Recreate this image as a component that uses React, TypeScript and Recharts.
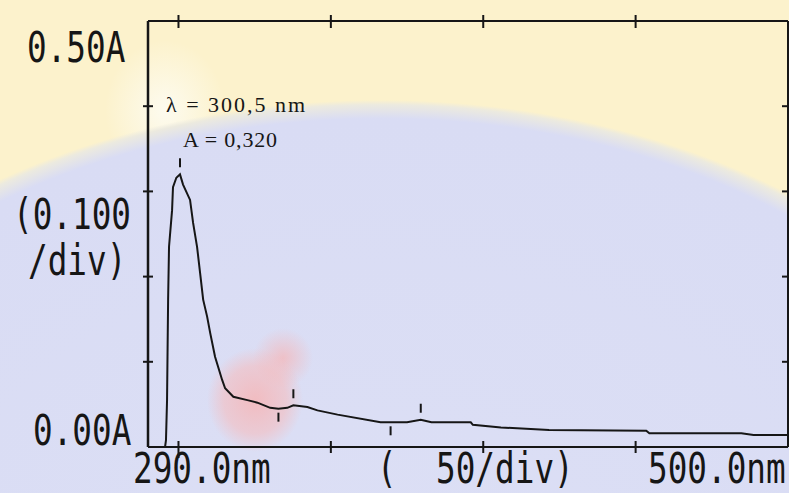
import React from 'react'
import {
  ComposedChart,
  XAxis,
  YAxis,
  Line,
  Scatter,
  Label
} from 'recharts'

// spectrum (nm / absorbance)
const wavelength = [290, 294.5, 295.6, 295.9, 296.25, 296.6, 296.9, 297.9, 298.2, 299.3, 300.5, 301.5, 303.8, 304.8, 306.1, 307.1, 308.1, 309.4, 310.4, 312.0, 314.3, 315.3, 318.0, 322.6, 325.9, 330.1, 332.8, 335.7, 337.7, 342.3, 345.6, 352.2, 366.3, 369.6, 375, 379.5, 383, 395.9, 396.6, 405.8, 421.6, 453.5, 454.5, 484.7, 488.7, 500]
const absorbance = [0, 0, 0, 0.008, 0.055, 0.173, 0.235, 0.278, 0.305, 0.316, 0.320, 0.308, 0.290, 0.263, 0.235, 0.204, 0.173, 0.153, 0.134, 0.106, 0.079, 0.069, 0.059, 0.055, 0.052, 0.046, 0.045, 0.046, 0.049, 0.047, 0.043, 0.038, 0.029, 0.029, 0.029, 0.032, 0.029, 0.029, 0.026, 0.023, 0.020, 0.019, 0.016, 0.016, 0.014, 0.014]

// peak / valley picks
const peakNm = [300.5, 337.7, 379.5]
const peakA = [0.320, 0.049, 0.032]
const valleyNm = [332.8, 369.6]
const valleyA = [0.045, 0.029]

const xTicks = [290, 300, 350, 400, 450, 500]
const frameXTicks = [300, 350, 400, 450]
const yTicks = [0, 0.1, 0.2, 0.3, 0.4, 0.5]
const frameYTicks = [0.1, 0.2, 0.3, 0.4]
const peakNote = ['λ = 300,5 nm', 'A = 0,320']

const spectrum = wavelength.map((nm, i) => ({ nm, A: absorbance[i] }))
const peaks = peakNm.map((nm, i) => ({ nm, A: peakA[i] }))
const valleys = valleyNm.map((nm, i) => ({ nm, A: valleyA[i] }))

const INK = '#161616'

const Mono = ({ x, y, children }: any) => (
  <text
    transform={`translate(${x},${y}) scale(0.76,1)`}
    fontFamily="'DejaVu Sans Mono', monospace"
    fontSize={43}
    fill={INK}
    style={{ whiteSpace: 'pre' }}
  >
    {children}
  </text>
)

const BottomTick = (props: any) => {
  const { x, y, payload } = props
  if (payload.value === 290) return <Mono x={x - 15} y={y + 36}>290.0nm</Mono>
  if (payload.value === 500) return <Mono x={x - 140} y={y + 36}>500.0nm</Mono>
  const down = payload.value === 300 ? 11 : 6
  return <line x1={x} x2={x} y1={y - 6} y2={y + down} stroke={INK} strokeWidth={2} />
}

const TopTick = (props: any) => {
  const { x, y } = props
  return <line x1={x} x2={x} y1={y - 6} y2={y + 7} stroke={INK} strokeWidth={2} />
}

const LeftTick = (props: any) => {
  const { x, y, payload } = props
  if (payload.value === 0.5) return <Mono x={x - 121} y={y + 41}>0.50A</Mono>
  if (payload.value === 0) return <Mono x={x - 115} y={y - 2}>0.00A</Mono>
  return <line x1={x - 5} x2={x + 5} y1={y} y2={y} stroke={INK} strokeWidth={2} />
}

const RightTick = (props: any) => {
  const { x, y } = props
  return <line x1={x - 6} x2={x + 4} y1={y} y2={y} stroke={INK} strokeWidth={2} />
}

const PeakMark = (props: any) => {
  const { cx, cy, index } = props
  return (
    <g>
      <line x1={cx} x2={cx} y1={cy - 16} y2={cy - 7} stroke={INK} strokeWidth={2} />
      {index === 0 && (
        <g fontFamily="'Liberation Serif', serif" fontSize={22} fill={INK}>
          <text x={cx - 14} y={cy - 62} letterSpacing={2}>{peakNote[0]}</text>
          <text x={cx + 3} y={cy - 27} letterSpacing={0.8}>{peakNote[1]}</text>
        </g>
      )}
    </g>
  )
}

const ValleyMark = (props: any) => {
  const { cx, cy } = props
  return <line x1={cx} x2={cx} y1={cy + 4} y2={cy + 13} stroke={INK} strokeWidth={2} />
}

const background = [
  'radial-gradient(ellipse 48px 52px at 255px 400px, rgba(247,180,180,0.8) 0%, rgba(247,186,186,0.55) 65%, rgba(247,190,190,0) 100%)',
  'radial-gradient(ellipse 30px 30px at 283px 358px, rgba(247,180,180,0.7) 0%, rgba(247,190,190,0) 100%)',
  'radial-gradient(ellipse 680px 465px at 380px 565px, #dcdff5 0%, #d9dcf4 96%, #eceadf 99%, rgba(252,242,204,0) 100%)',
  'radial-gradient(ellipse 60px 70px at 165px 110px, #fdfbef 0%, rgba(253,251,239,0) 100%)',
  '#fcf2cc'
].join(',')

export default function App() {
  return (
    <div style={{ position: 'absolute', left: 0, top: 0, width: 789, height: 493, overflow: 'hidden', background }}>
      <ComposedChart
        width={789}
        height={493}
        data={spectrum}
        margin={{ top: 20, right: 0, bottom: 0, left: 0 }}
      >
        <XAxis
          xAxisId="b"
          dataKey="nm"
          type="number"
          domain={[290, 500]}
          ticks={xTicks}
          interval={0}
          height={46}
          tickSize={0}
          tickMargin={0}
          tickLine={false}
          tick={<BottomTick />}
          axisLine={{ stroke: INK, strokeWidth: 2 }}
          allowDataOverflow
        >
          <Label
            content={(p: any) => {
              const vb = p.viewBox
              return <Mono x={vb.x + 229} y={vb.y + 36}>(  50/div)</Mono>
            }}
          />
        </XAxis>
        <XAxis
          xAxisId="t"
          dataKey="nm"
          orientation="top"
          type="number"
          domain={[290, 500]}
          ticks={frameXTicks}
          interval={0}
          height={1}
          tickSize={0}
          tickMargin={0}
          tickLine={false}
          tick={<TopTick />}
          axisLine={{ stroke: INK, strokeWidth: 2 }}
          allowDataOverflow
        />
        <YAxis
          yAxisId="l"
          dataKey="A"
          type="number"
          domain={[0, 0.5]}
          ticks={yTicks}
          interval={0}
          width={148}
          tickSize={0}
          tickMargin={0}
          tickLine={false}
          tick={<LeftTick />}
          axisLine={{ stroke: INK, strokeWidth: 2.5 }}
          allowDataOverflow
        >
          <Label
            content={(p: any) => {
              const vb = p.viewBox
              const mid = vb.y + vb.height / 2
              return (
                <g>
                  <Mono x={13} y={mid - 5}>(0.100</Mono>
                  <Mono x={28} y={mid + 41}>/div)</Mono>
                </g>
              )
            }}
          />
        </YAxis>
        <YAxis
          yAxisId="r"
          dataKey="A"
          orientation="right"
          type="number"
          domain={[0, 0.5]}
          ticks={frameYTicks}
          interval={0}
          width={1}
          tickSize={0}
          tickMargin={0}
          tickLine={false}
          tick={<RightTick />}
          axisLine={{ stroke: INK, strokeWidth: 2 }}
          allowDataOverflow
        />
        <Line
          xAxisId="t"
          yAxisId="r"
          dataKey="A"
          stroke="none"
          dot={false}
          activeDot={false}
          isAnimationActive={false}
        />
        <Line
          xAxisId="b"
          yAxisId="l"
          dataKey="A"
          type="linear"
          stroke={INK}
          strokeWidth={2}
          dot={false}
          activeDot={false}
          isAnimationActive={false}
        />
        <Scatter
          xAxisId="b"
          yAxisId="l"
          data={peaks}
          dataKey="A"
          shape={<PeakMark />}
          isAnimationActive={false}
        />
        <Scatter
          xAxisId="b"
          yAxisId="l"
          data={valleys}
          dataKey="A"
          shape={<ValleyMark />}
          isAnimationActive={false}
        />
      </ComposedChart>
    </div>
  )
}
